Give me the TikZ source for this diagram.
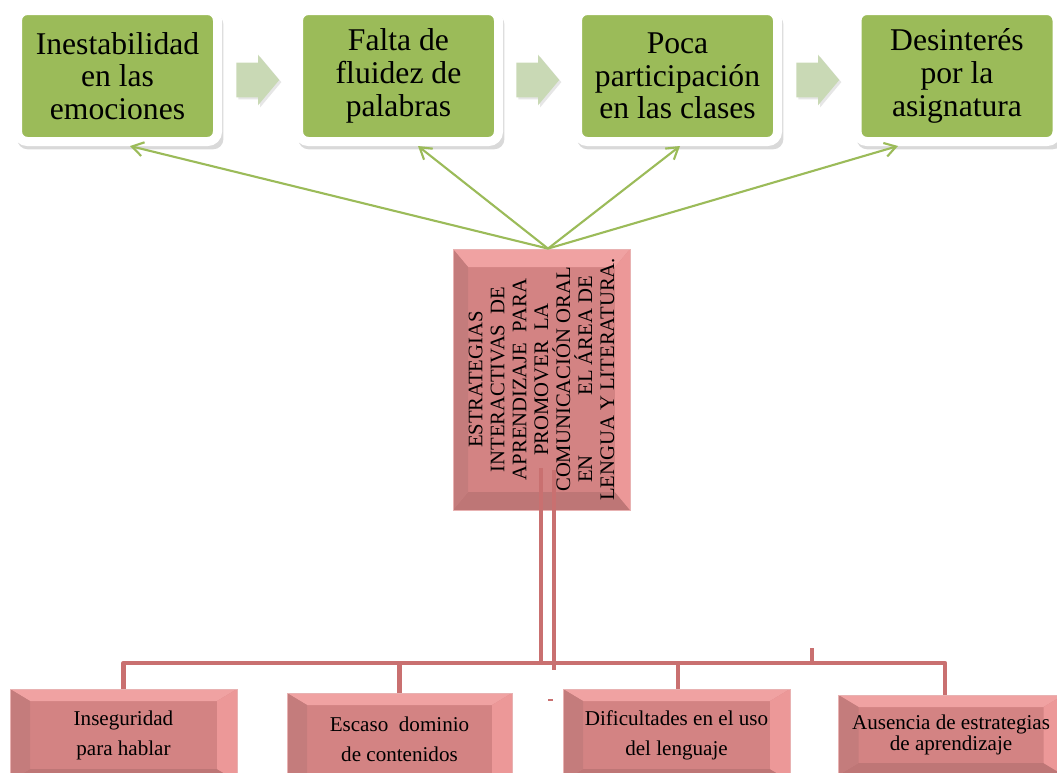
\documentclass[tikz,border=0pt]{standalone}
\usepackage{fontspec}
\setmainfont{Liberation Serif}
\usetikzlibrary{arrows.meta,shapes.arrows,shadows,calc}

\definecolor{grnbox}{RGB}{155,187,89}
\definecolor{grnline}{RGB}{155,187,89}
\definecolor{grnarrow}{RGB}{201,217,181}
\definecolor{redface}{RGB}{211,131,131}
\definecolor{redtop}{RGB}{240,162,162}
\definecolor{redleft}{RGB}{196,124,124}
\definecolor{redright}{RGB}{236,152,152}
\definecolor{redbottom}{RGB}{190,118,118}
\definecolor{redborder}{RGB}{232,178,178}
\definecolor{redline}{RGB}{201,112,112}

\newcommand{\unitpx}{0.025cm}

\tikzset{
  probbox/.style={fill=grnbox, draw=white, line width=6.4pt, rounded corners=7pt,
    minimum width=200*\unitpx, minimum height=131*\unitpx, inner sep=0pt,
    align=center, font=\fontsize{22.5}{23.2}\selectfont,
    drop shadow={shadow scale=1.03, shadow xshift=2pt, shadow yshift=-4pt, opacity=0.3}},
  blkarrow/.style={single arrow, fill=grnarrow, draw=none, inner xsep=0pt, inner ysep=17*\unitpx,
    minimum height=43*\unitpx,
    single arrow head extend=8*\unitpx, single arrow tip angle=100,
    drop shadow={shadow xshift=1.5pt, shadow yshift=-1.5pt, opacity=0.2}},
  bevelbox/.style 2 args={fill=redface, draw=redborder, line width=0.6pt, inner sep=0pt,
    path picture={
      \fill[redtop] (path picture bounding box.north west) -- (path picture bounding box.north east)
        -- ([xshift=-#1,yshift=-#2]path picture bounding box.north east)
        -- ([xshift=#1,yshift=-#2]path picture bounding box.north west) -- cycle;
      \fill[redbottom] (path picture bounding box.south west) -- (path picture bounding box.south east)
        -- ([xshift=-#1,yshift=#2]path picture bounding box.south east)
        -- ([xshift=#1,yshift=#2]path picture bounding box.south west) -- cycle;
      \fill[redleft] (path picture bounding box.north west) -- (path picture bounding box.south west)
        -- ([xshift=#1,yshift=#2]path picture bounding box.south west)
        -- ([xshift=#1,yshift=-#2]path picture bounding box.north west) -- cycle;
      \fill[redright] (path picture bounding box.north east) -- (path picture bounding box.south east)
        -- ([xshift=-#1,yshift=#2]path picture bounding box.south east)
        -- ([xshift=-#1,yshift=-#2]path picture bounding box.north east) -- cycle;
    }},
  lowbox/.style={bevelbox={20*\unitpx}{12*\unitpx}, minimum height=92*\unitpx,
    align=center, font=\fontsize{15}{21.3}\selectfont},
  grnconn/.style={draw=grnline, line width=1.5pt},
  redconn/.style={draw=redline, line width=3.2pt}
}

\begin{document}
\begin{tikzpicture}[x=0.025cm, y=-0.025cm, >={Straight Barb[length=8pt,width=10pt]}]
\useasboundingbox (0,0) rectangle (1057,772);

% upper row
\node[probbox] (g1) at (117.5,76) {Inestabilidad\\en las\\emociones};
\node[probbox] (g2) at (398.5,76) {Falta de\\fluidez de\\palabras};
\node[probbox] (g3) at (677.5,76) {Poca\\participación\\en las clases};
\node[probbox] (g4) at (957,76) {Desinterés\\por la\\asignatura};
\node[blkarrow] (a1) at (250.5,80) {};
\node[blkarrow] (a2) at (530.5,80) {};
\node[blkarrow] (a3) at (810.5,80) {};

% central box
\node[bevelbox={15*\unitpx}{18*\unitpx}, minimum width=177*\unitpx, minimum height=261*\unitpx] (cbox) at (541.5,379.5) {};
\node[rotate=90, align=center, font=\fontsize{14.7}{15.6}\selectfont] (ctxt) at (cbox.center)
  {ESTRATEGIAS\\INTERACTIVAS\ \ DE\\APRENDIZAJE\ \ PARA\\PROMOVER\ \ LA\\COMUNICACIÓN ORAL\\EN\hspace{2.9em}EL ÁREA DE\\LENGUA Y LITERATURA.};

% lower row
\node[lowbox, minimum width=227*\unitpx] (pa) at (123.5,735) {Inseguridad\\para hablar};
\node[lowbox, minimum width=225*\unitpx] (pb) at (399.5,739) {Escaso\ \ dominio\\de contenidos};
\node[lowbox, minimum width=227*\unitpx] (pc) at (676.5,735) {Dificultades en el uso\\del lenguaje};
\node[lowbox, minimum width=225*\unitpx, minimum height=80*\unitpx, font=\fontsize{15}{15}\selectfont] (pd) at (951,735) {Ausencia de estrategias\\de aprendizaje};

% green connectors
\coordinate (apex) at ($(cbox.north)+(6.5,0)$);
\draw[grnconn,->] (apex) -- ($(g1.south)+(12.5,0)$);
\draw[grnconn,->] (apex) -- ($(g2.south)+(19.5,0)$);
\draw[grnconn,->] (apex) -- ($(g3.south)+(2.5,0)$);
\draw[grnconn,->] (apex) -- ($(g4.south)+(-59,0)$);

% red connectors
\coordinate (bar) at (0,663);
\coordinate (vl) at ($(cbox.south)+(-0.5,-42)$);
\coordinate (vr) at ($(cbox.south)+(12.5,-40)$);
\coordinate (dd) at ($(pd.north)+(-6,0)$);
\draw[redconn] (vl) -- (vl |- bar);
\draw[redconn] (vr) -- ($(vr |- bar)+(0,7)$);
\draw[redconn, line join=round] (pa.north) -- (pa.north |- bar) -- (dd |- bar) -- (dd);
\draw[redconn] (pb.north) -- (pb.north |- bar);
\draw[redconn] ($(pc.north)+(1.5,0)$) -- ($(pc.north |- bar)+(1.5,0)$);
\coordinate (tick) at (812,648);
\draw[redconn] (tick) -- (tick |- bar);
\draw[redline, line width=1pt] (548,700) -- (553,700);
\end{tikzpicture}
\end{document}
